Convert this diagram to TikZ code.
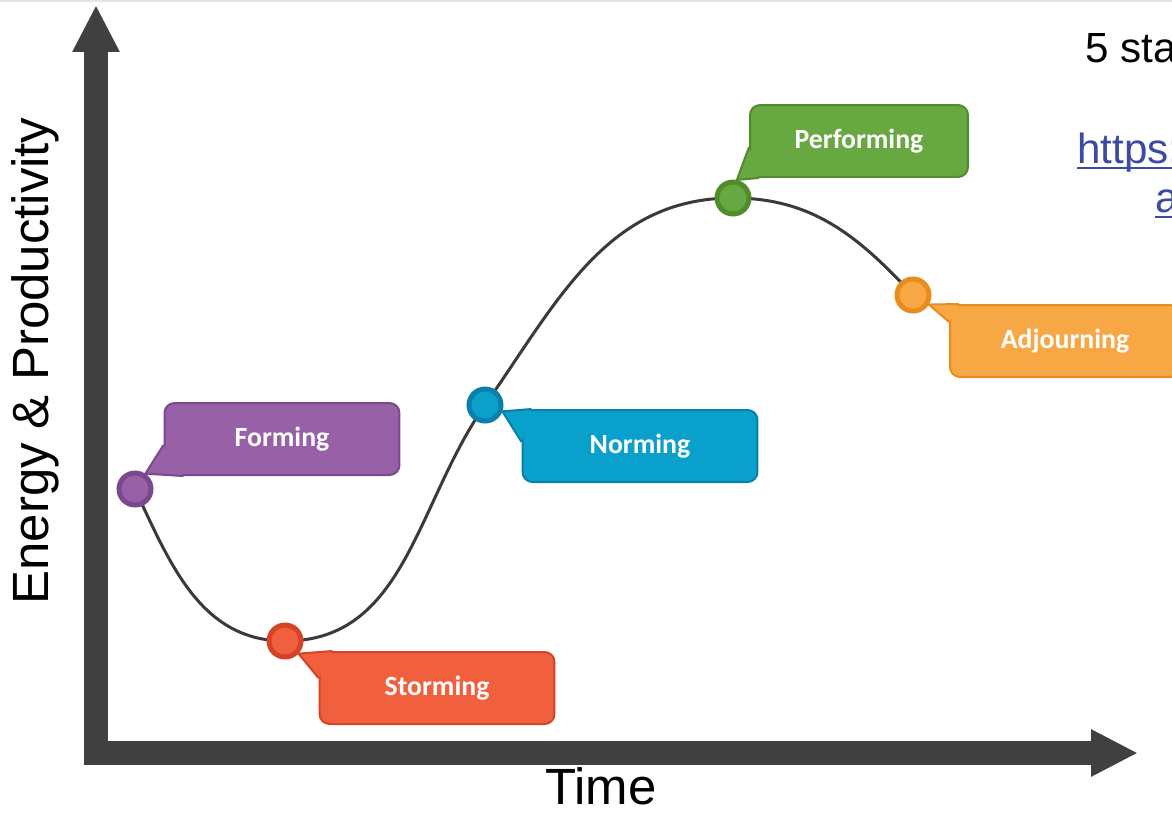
\documentclass[tikz,border=0pt]{standalone}
\usepackage{fontspec}
\setmainfont{Liberation Sans}
\newfontfamily\bubblefont{Carlito}
\usepackage{xcolor}
\definecolor{axisgray}{RGB}{64, 64, 64}
\definecolor{curvegray}{RGB}{58, 58, 58}
\definecolor{linkblue}{RGB}{59, 74, 163}
\definecolor{formfill}{RGB}{151, 96, 167}
\definecolor{formline}{RGB}{122, 72, 142}
\definecolor{stormfill}{RGB}{240, 96, 62}
\definecolor{stormline}{RGB}{214, 66, 36}
\definecolor{normfill}{RGB}{10, 160, 204}
\definecolor{normline}{RGB}{8, 128, 170}
\definecolor{perffill}{RGB}{104, 168, 64}
\definecolor{perfline}{RGB}{80, 140, 44}
\definecolor{adjfill}{RGB}{247, 168, 68}
\definecolor{adjline}{RGB}{232, 140, 30}
\usetikzlibrary{arrows.meta, positioning, calc}

\begin{document}
\begin{tikzpicture}[
    x=0.02cm, y=-0.02cm,
    axis/.style={draw=axisgray, line width=0.48cm, {Triangle[length=0.94cm, width=0.88cm]}-{Triangle[length=0.94cm, width=0.88cm]}},
    curve/.style={draw=curvegray, line width=0.06cm},
    stage/.style={rectangle, rounded corners=0.2cm, fill=#1fill, draw=#1line, line width=0.04cm, minimum width=4.7cm, minimum height=1.44cm, text=white, font=\bubblefont\bfseries\fontsize{15.8}{19}\selectfont},
    dot/.style={circle, fill=#1fill, draw=#1line, line width=0.1cm, minimum size=0.64cm, inner sep=0pt},
    tail/.style={fill=#1fill, draw=#1line, line width=0.04cm, line join=round},
    bigtext/.style={inner sep=0pt, font=\fontsize{29}{34}\selectfont}
]
    \fill[white] (0,0) rectangle (1172,812);
    \useasboundingbox (0,0) rectangle (1172,812);
    \clip (0,0) rectangle (1172,812);
    \draw[gray!20, line width=0.04cm] (0,1) -- (1172,1);

    % Axes
    \coordinate (ytip) at (96,5);
    \coordinate (xtip) at (1138,753);
    \draw[axis] (ytip) |- (xtip);
    \node[bigtext, rotate=90, anchor=base] (ylabel) at (48,361) {Energy \& Productivity};
    \node[bigtext, anchor=base] (xlabel) at (601,804) {Time};

    % Curve
    \coordinate (p1) at (135,489);
    \coordinate (p2) at (285,641);
    \coordinate (p3) at (485,405);
    \coordinate (p4) at (733,198);
    \coordinate (p5) at (913,295);
    \draw[curve] (p1) to[out=-65, in=180] (p2) to[out=0, in=235] (p3)
        to[out=55, in=180] (p4) to[out=0, in=133] (p5);

    % Dots
    \node[dot=form] (formdot) at (p1) {};
    \node[dot=storm] (stormdot) at (p2) {};
    \node[dot=norm] (normdot) at (p3) {};
    \node[dot=perf] (perfdot) at (p4) {};
    \node[dot=adj] (adjdot) at (p5) {};

    % Stages
    \node[stage=form] (formbox) at (282,439) {Forming};
    \node[stage=storm] (stormbox) at (437,688) {Storming};
    \node[stage=norm] (normbox) at (640,446) {Norming};
    \node[stage=perf, minimum width=4.36cm] (perfbox) at (859,141) {Performing};
    \node[stage=adj, minimum width=4.6cm] (adjbox) at (1065,341) {Adjourning};

    % Tails
    \filldraw[tail=form] ($(formbox.west)+(0,6)$) -- (formdot.56) -- ($(formbox.south west)+(20,0)$);
    \filldraw[tail=storm] ($(stormbox.west)+(0,-10)$) -- (stormdot.-43) -- ($(stormbox.north west)+(14,0)$);
    \filldraw[tail=norm] ($(normbox.west)+(0,-4)$) -- (normdot.-20) -- ($(normbox.north west)+(10,0)$);
    \filldraw[tail=perf] ($(perfbox.west)+(0,6)$) -- (perfdot.78) -- ($(perfbox.south west)+(10,0)$);
    \filldraw[tail=adj] ($(adjbox.north west)+(10,0)$) -- (adjdot.-31) -- ($(adjbox.west)+(0,-19)$);

    % Side note
    \node[inner sep=0pt, anchor=base west, font=\fontsize{24}{28}\selectfont] (title) at (1085,62) {5 stages};
    \node[inner sep=0pt, anchor=base west, text=linkblue, font=\fontsize{24}{28}\selectfont] (linkone) at (1077,163) {https://};
    \node[inner sep=0pt, anchor=base west, text=linkblue, font=\fontsize{24}{28}\selectfont] (linktwo) at (1155,212) {a};
    \draw[linkblue, line width=0.04cm] ($(linkone.base west)+(0,5)$) -- ($(linkone.base east)+(0,5)$);
    \draw[linkblue, line width=0.04cm] ($(linktwo.base west)+(0,5)$) -- ($(linktwo.base east)+(0,5)$);
\end{tikzpicture}
\end{document}
